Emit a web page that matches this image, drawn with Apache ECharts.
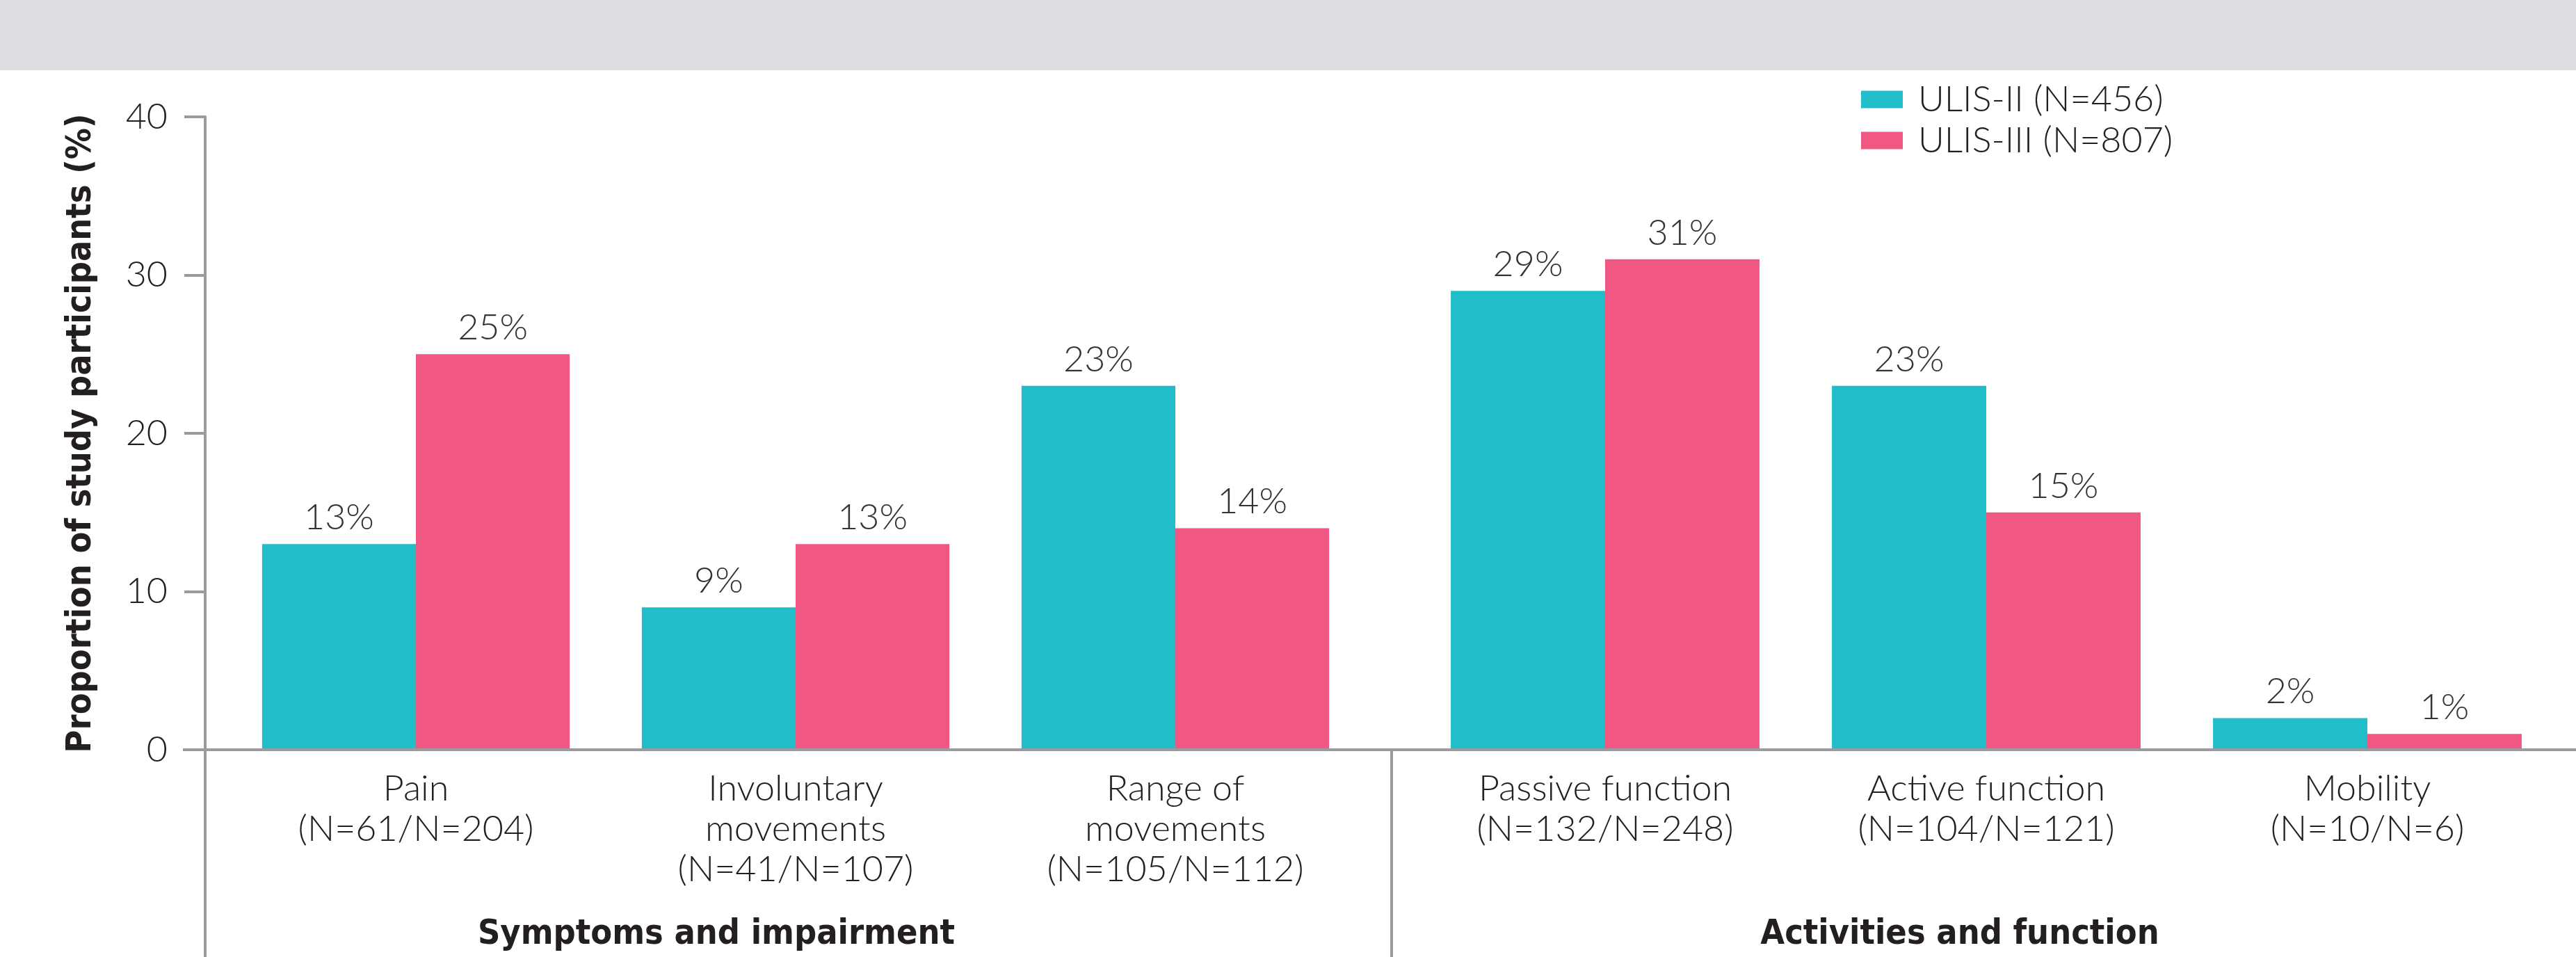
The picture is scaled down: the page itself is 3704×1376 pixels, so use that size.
<!DOCTYPE html>
<html>
<head>
<meta charset="utf-8">
<title>ULIS-II vs ULIS-III goal areas</title>
<script src="https://cdn.jsdelivr.net/npm/echarts@6/dist/echarts.min.js"></script>
<style>
  html, body { margin: 0; padding: 0; background: #fff; }
  #chart { width: 3704px; height: 1376px; }
</style>
</head>
<body>
<div id="chart"></div>
<script>
// data
const symptomCats = ['Pain\n(N=61/N=204)', 'Involuntary\nmovements\n(N=41/N=107)', 'Range of\nmovements\n(N=105/N=112)']
const activityCats = ['Passive function\n(N=132/N=248)', 'Active function\n(N=104/N=121)', 'Mobility\n(N=10/N=6)']
const ulis2Symptoms = [13, 9, 23]
const ulis3Symptoms = [25, 13, 14]
const ulis2Activities = [29, 23, 2]
const ulis3Activities = [31, 15, 1]
const yTicks = [0, 10, 20, 30, 40]
const seriesNames = ['ULIS-II (N=456)', 'ULIS-III (N=807)']
const groupNames = ['Symptoms and impairment', 'Activities and function']

const TEAL = '#21bdc9'
const PINK = '#f05883'
const AXIS = '#9a9b9e'
const TEXT = '#231f20'
const LIGHT = 'Lato, "Open Sans", sans-serif'
const BOLD = '"DejaVu Sans Condensed", "DejaVu Sans", sans-serif'
const FS = 52

// plot geometry (px)
const plotTop = 168
const plotHeight = 910
const base = plotTop + plotHeight
const yAxisX = 295

const chart = echarts.init(document.getElementById('chart'))

const catAxis = (gridIndex, data) => ({
  type: 'category',
  gridIndex: gridIndex,
  data: data,
  axisLine: { show: false },
  axisTick: { show: false },
  axisLabel: {
    margin: 27,
    fontFamily: LIGHT,
    fontWeight: 300,
    fontSize: FS,
    lineHeight: 58,
    color: TEXT
  }
})

const valAxis = (gridIndex, visible) => ({
  type: 'value',
  gridIndex: gridIndex,
  min: yTicks[0],
  max: yTicks[yTicks.length - 1],
  interval: yTicks[1] - yTicks[0],
  offset: visible ? 30 : 0,
  show: visible,
  splitLine: { show: false },
  axisLine: { show: visible, lineStyle: { color: AXIS, width: 4 } },
  axisTick: { show: visible, length: 30, lineStyle: { color: AXIS, width: 4 } },
  axisLabel: {
    show: visible,
    margin: 54,
    fontFamily: LIGHT,
    fontWeight: 300,
    fontSize: FS,
    color: TEXT
  },
  name: visible ? 'Proportion of study participants (%)' : '',
  nameLocation: 'middle',
  nameGap: 153,
  nameTextStyle: {
    fontFamily: BOLD,
    fontWeight: 'bold',
    fontSize: 50,
    color: TEXT
  }
})

const barLabel = {
  show: true,
  position: 'top',
  distance: 12,
  formatter: '{c}%',
  fontFamily: LIGHT,
  fontWeight: 300,
  fontSize: FS,
  color: '#333'
}

const bar = (name, xi, data, color) => ({
  name: name,
  type: 'bar',
  xAxisIndex: xi,
  yAxisIndex: xi,
  data: data,
  barGap: 0,
  barCategoryGap: '19%',
  itemStyle: { color: color },
  label: barLabel
})

const option = {
  animation: false,
  backgroundColor: '#fff',
  grid: [
    { left: 325, width: 1638, top: plotTop, height: plotHeight },
    { left: 2034, width: 1644, top: plotTop, height: plotHeight }
  ],
  legend: {
    orient: 'vertical',
    left: 2671,
    top: 112,
    itemWidth: 60,
    itemHeight: 25,
    itemGap: 7,
    icon: 'rect',
    data: seriesNames,
    textStyle: {
      fontFamily: LIGHT,
      fontWeight: 300,
      fontSize: FS,
      lineHeight: 52,
      color: TEXT,
      padding: [0, 0, 0, 17]
    }
  },
  xAxis: [catAxis(0, symptomCats), catAxis(1, activityCats)],
  yAxis: [valAxis(0, true), valAxis(1, false)],
  series: [
    bar(seriesNames[0], 0, ulis2Symptoms, TEAL),
    bar(seriesNames[1], 0, ulis3Symptoms, PINK),
    bar(seriesNames[0], 1, ulis2Activities, TEAL),
    bar(seriesNames[1], 1, ulis3Activities, PINK)
  ],
  graphic: [
    // grey header band
    { type: 'rect', left: 0, top: 0, shape: { width: 3704, height: 101 }, style: { fill: '#dcdde0' }, z: -1 },
    // baseline across both panels
    { type: 'line', shape: { x1: 263, y1: base, x2: 3704, y2: base }, style: { stroke: AXIS, lineWidth: 4 }, z: 10 },
    // y axis continues below baseline
    { type: 'line', shape: { x1: yAxisX, y1: base, x2: yAxisX, y2: 1376 }, style: { stroke: AXIS, lineWidth: 4 } },
    // panel separator
    { type: 'line', shape: { x1: 2001, y1: base, x2: 2001, y2: 1376 }, style: { stroke: AXIS, lineWidth: 4 } },
    {
      type: 'text', x: 1030, y: 1344,
      style: { text: groupNames[0], fontFamily: BOLD, fontWeight: 'bold', fontSize: 50, fill: TEXT, textAlign: 'center', textVerticalAlign: 'middle' }
    },
    {
      type: 'text', x: 2818, y: 1344,
      style: { text: groupNames[1], fontFamily: BOLD, fontWeight: 'bold', fontSize: 50, fill: TEXT, textAlign: 'center', textVerticalAlign: 'middle' }
    }
  ]
}

chart.setOption(option)
</script>
</body>
</html>
